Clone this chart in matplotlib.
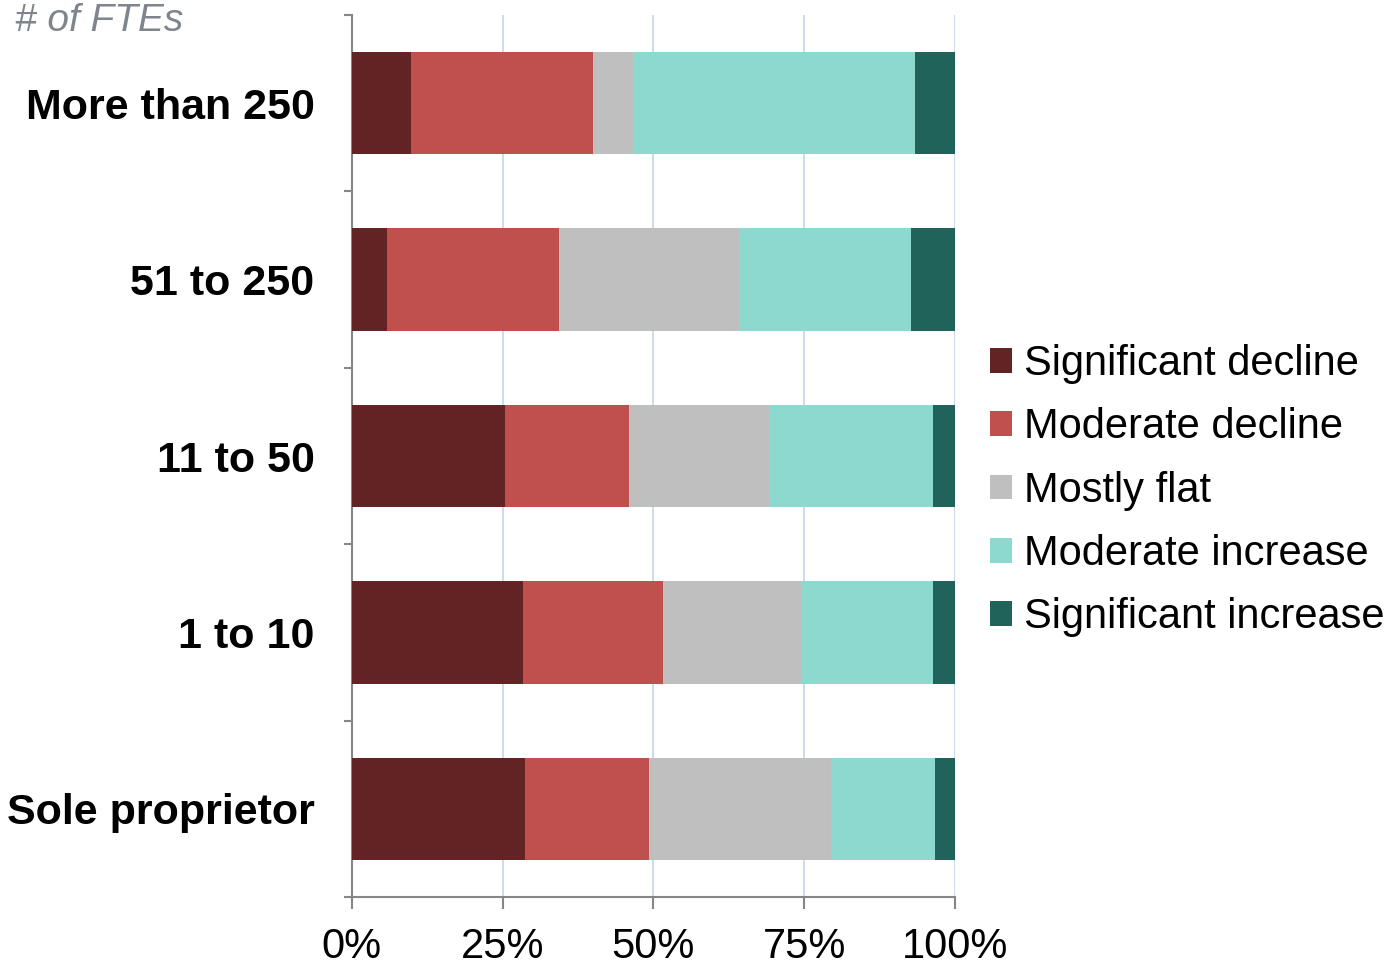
import numpy as np
import matplotlib.pyplot as plt

plt.rcParams['font.family'] = ['Liberation Sans', 'DejaVu Sans']

# Company size groups, top to bottom
groups = ['More than 250', '51 to 250', '11 to 50', '1 to 10', 'Sole proprietor']

# Share of responses (%) per outlook category
sig_decline = [9.8, 5.8, 25.4, 28.4, 28.7]
mod_decline = [30.2, 28.5, 20.6, 23.2, 20.6]
mostly_flat = [6.6, 29.9, 23.2, 23.1, 30.2]
mod_increase = [46.8, 28.5, 27.2, 21.7, 17.2]
sig_increase = [6.6, 7.3, 3.6, 3.6, 3.3]

series = ['Significant decline', 'Moderate decline', 'Mostly flat',
          'Moderate increase', 'Significant increase']
values = [sig_decline, mod_decline, mostly_flat, mod_increase, sig_increase]
colors = ['#622325', '#C0504D', '#BFBFBF', '#8DD9CF', '#1F635A']

fig = plt.figure(figsize=(13.96, 9.68), dpi=100)
ax = fig.add_axes([0.2521, 0.0733, 0.432, 0.9112])

y = np.arange(len(groups))
left = np.zeros(len(groups))
handles = []
for name, vals, c in zip(series, values, colors):
    vals = np.array(vals)
    h = ax.barh(y, vals, left=left, height=0.58, color=c, label=name, zorder=3)
    handles.append(h)
    left += vals

ax.set_xlim(0, 100)
ax.set_ylim(len(groups) - 0.5, -0.5)

# x axis
ax.set_xticks([0, 25, 50, 75, 100])
ax.set_xticklabels(['0%', '25%', '50%', '75%', '100%'], fontsize=30)
ax.tick_params(axis='x', length=8.6, width=1.5, color='#868686', pad=13)
ax.xaxis.grid(True, color='#C3D4EA', linewidth=1.2, zorder=0)

# y axis: labels at centers, ticks at group boundaries
ax.set_yticks(y)
ax.set_yticklabels(groups, fontsize=31, fontweight='bold')
ax.tick_params(axis='y', which='major', length=0, pad=27)
ax.set_yticks(np.arange(-0.5, len(groups)), minor=True)
ax.tick_params(axis='y', which='minor', length=6, width=1.5, color='#868686')

for s in ['top', 'right']:
    ax.spines[s].set_visible(False)
for s in ['left', 'bottom']:
    ax.spines[s].set_color('#868686')
    ax.spines[s].set_linewidth(1.5)

fig.text(0.011, 0.997, '# of FTEs', fontsize=28, style='italic',
         color='#7F858D', va='top', ha='left')

fig.legend(handles=handles, loc='center left', bbox_to_anchor=(0.709, 0.493),
           frameon=False, fontsize=30, handlelength=0.53, handleheight=0.53,
           handletextpad=0.29, labelspacing=0.56, borderpad=0, borderaxespad=0)

fig.savefig('out.png', dpi=100)
